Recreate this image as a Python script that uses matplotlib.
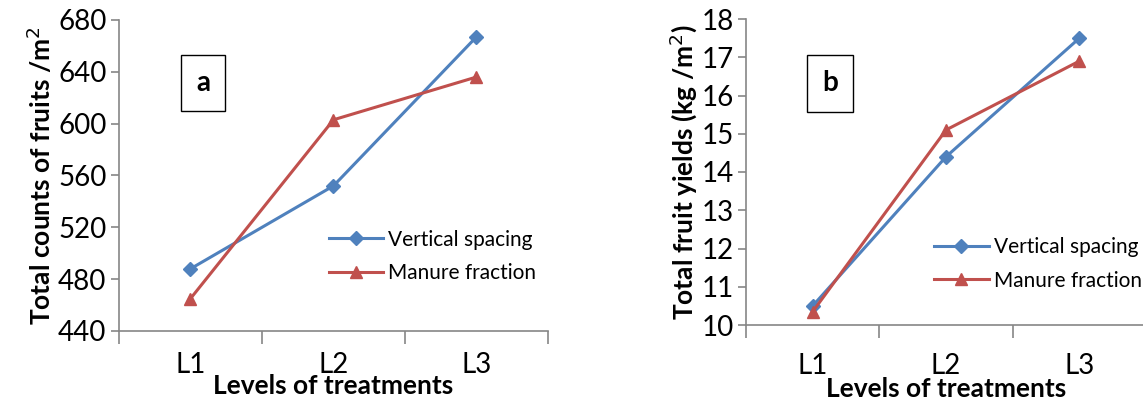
import matplotlib
matplotlib.use("Agg")
import matplotlib.pyplot as plt
import numpy as np

plt.rcParams['font.family'] = ['Lato', 'DejaVu Sans']

# datos
levels = ["L1", "L2", "L3"]
counts_vertical = [488, 552, 667]
counts_manure = [465, 603, 636]
yield_vertical = [10.5, 14.4, 17.5]
yield_manure = [10.35, 15.1, 16.9]

blue = "#4F81BD"
red = "#C0504D"
axis_grey = "#868686"

fig = plt.figure(figsize=(11.43, 4.0), dpi=100)


def draw_panel(ax, v1, v2, ylim, yticks, ylabel, letter, box_xy, leg_anchor, tick_pad, xlab_pad):
    x = np.arange(len(levels)) + 0.5
    ax.plot(x, v1, color=blue, lw=2.2, marker="D", ms=7, label="Vertical spacing",
            clip_on=False, zorder=3)
    ax.plot(x, v2, color=red, lw=2.2, marker="^", ms=9, label="Manure fraction",
            clip_on=False, zorder=3)
    ax.set_xlim(0, len(levels))
    ax.set_ylim(*ylim)
    ax.set_yticks(yticks)
    ax.set_xticks(np.arange(len(levels) + 1))
    ax.set_xticklabels([])
    ax.set_xticks(x, minor=True)
    ax.set_xticklabels(levels, minor=True)
    ax.tick_params(axis="x", which="major", length=9, width=1.2, color=axis_grey, direction="out")
    ax.tick_params(axis="x", which="minor", length=0, labelsize=20, pad=tick_pad)
    ax.tick_params(axis="y", length=6, width=1.2, color=axis_grey, labelsize=20, pad=3)
    for s in ["top", "right"]:
        ax.spines[s].set_visible(False)
    for s in ["left", "bottom"]:
        ax.spines[s].set_color(axis_grey)
        ax.spines[s].set_linewidth(1.2)
    ax.set_ylabel(ylabel, fontsize=19, fontweight="bold", labelpad=2)
    ax.set_xlabel("Levels of treatments", fontsize=19, fontweight="bold", labelpad=xlab_pad)
    ax.text(box_xy[0], box_xy[1], letter, transform=ax.transAxes, fontsize=20,
            fontweight="bold", ha="center", va="center",
            bbox=dict(boxstyle="square,pad=0.55", fc="white", ec="black", lw=1))
    ax.legend(loc="center left", bbox_to_anchor=leg_anchor, frameon=False,
              fontsize=15, handlelength=2.6, handletextpad=0.25, labelspacing=0.65,
              borderaxespad=0)


ax1 = fig.add_axes([0.1041, 0.1725, 0.3753, 0.7775])
draw_panel(ax1, counts_vertical, counts_manure, (440, 680), np.arange(440, 681, 40),
           "Total counts of fruits /m$^2$", "a", (0.196, 0.797), (0.47, 0.24), 15, -3)

ax2 = fig.add_axes([0.6527, 0.1875, 0.35, 0.765])
draw_panel(ax2, yield_vertical, yield_manure, (10, 18), np.arange(10, 19, 1),
           "Total fruit yields (kg /m$^2$)", "b", (0.21, 0.79), (0.45, 0.2), 20, -1)

fig.savefig("out.png", dpi=100)
